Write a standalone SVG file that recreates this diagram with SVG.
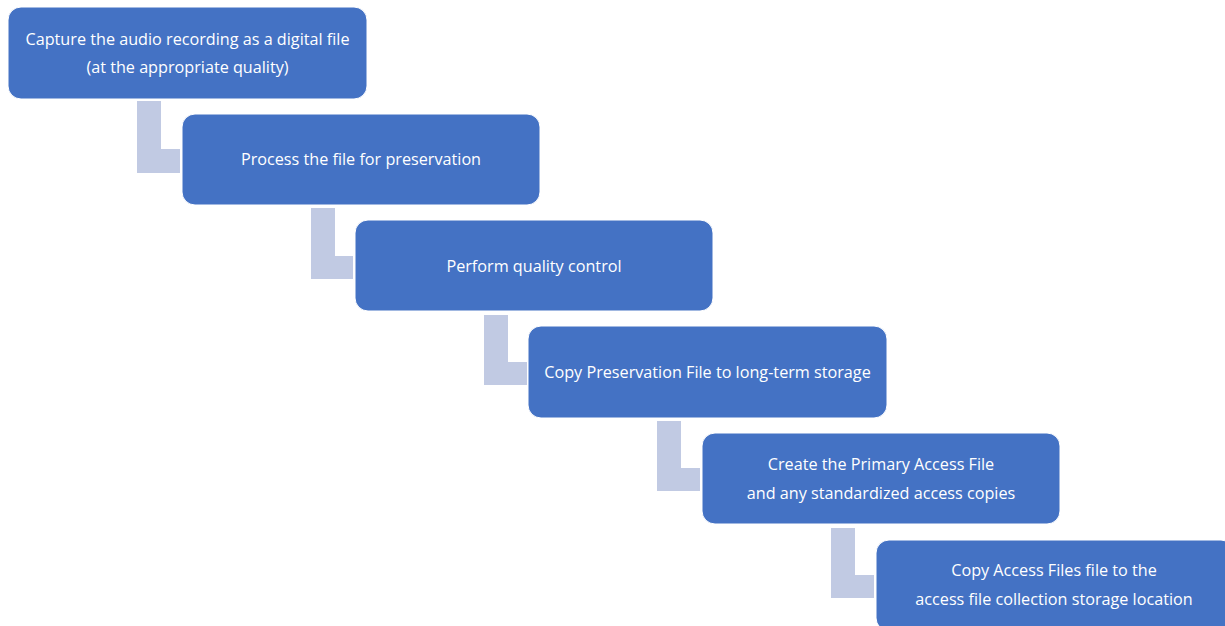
<svg xmlns="http://www.w3.org/2000/svg" width="1225" height="626" viewBox="0 0 1225 626">
<style>
.box{fill:#4472C4;stroke:#ffffff;stroke-width:1}
.lbl{font-family:"Open Sans","Liberation Sans",sans-serif;font-size:16.2px;fill:#ffffff;text-anchor:middle;dominant-baseline:central}
.conn{fill:#C1CAE3;stroke:none}
</style>
<rect width="1225" height="626" fill="#ffffff"/>
<g id="connectors">
<path class="conn" d="M137,101 H161 V149 H180 V173 H137 Z"/>
<path class="conn" d="M311,208 H335 V256 H353 V279 H311 Z"/>
<path class="conn" d="M484,315 H508 V362 H527 V385 H484 Z"/>
<path class="conn" d="M657,421 H681 V468 H700 V491 H657 Z"/>
<path class="conn" d="M831,528 H855 V575 H874 V598 H831 Z"/>
</g>
<g id="node1">
<rect class="box" x="8" y="7" width="359" height="92" rx="13"/>
<text class="lbl" x="187.5" y="39">Capture the audio recording as a digital file</text>
<text class="lbl" x="187.5" y="67">(at the appropriate quality)</text>
</g>
<g id="node2">
<rect class="box" x="182" y="114" width="358" height="91" rx="13"/>
<text class="lbl" x="361" y="159">Process the file for preservation</text>
</g>
<g id="node3">
<rect class="box" x="355" y="220" width="358" height="91" rx="13"/>
<text class="lbl" x="534" y="266">Perform quality control</text>
</g>
<g id="node4">
<rect class="box" x="528" y="326" width="359" height="92" rx="13"/>
<text class="lbl" x="707.5" y="372">Copy Preservation File to long-term storage</text>
</g>
<g id="node5">
<rect class="box" x="702" y="433" width="358" height="91" rx="13"/>
<text class="lbl" x="881" y="464">Create the Primary Access File</text>
<text class="lbl" x="881" y="493">and any standardized access copies</text>
</g>
<g id="node6">
<rect class="box" x="876" y="540" width="358" height="91" rx="13"/>
<text class="lbl" x="1054" y="570">Copy Access Files file to the</text>
<text class="lbl" x="1054" y="599">access file collection storage location</text>
</g>
</svg>
